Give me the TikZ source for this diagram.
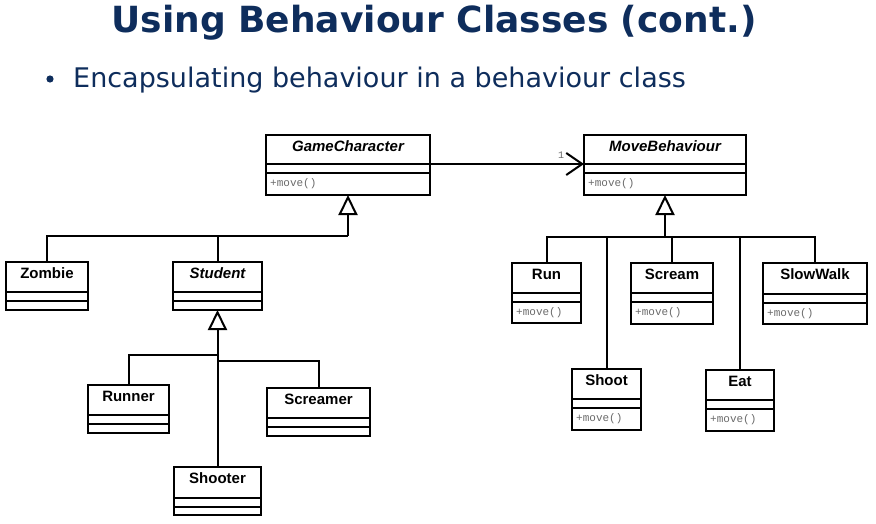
\documentclass[tikz,border=0pt]{standalone}
\usepackage{fontspec}
\setmainfont{DejaVu Sans}
\newfontfamily\umlsans{Liberation Sans}
\newfontfamily\umlmono{Liberation Mono}
\usetikzlibrary{arrows.meta}
\definecolor{navy}{HTML}{0E2D5C}
\definecolor{methodgray}{HTML}{6A6A6A}

\tikzset{
  classbox/.style={draw=black, line width=2pt, rectangle, inner sep=0pt, outer sep=0pt},
  divider/.style={line width=1.8pt},
  classname/.style={font=\umlsans\bfseries\fontsize{15}{17}\selectfont, anchor=base, inner sep=0pt},
  abstractname/.style={classname, font=\umlsans\bfseries\itshape\fontsize{15}{17}\selectfont},
  method/.style={font=\umlmono\fontsize{11}{12}\selectfont, text=methodgray, anchor=base west, inner sep=0pt},
  link/.style={line width=2pt},
  generalize/.style={link, -{Triangle[open, length=20pt, width=19pt, line width=2pt, fill=white]}},
  navigate/.style={link, -{Straight Barb[length=16pt, width=22pt, line width=2pt]}},
}

% #1 node name, #2 left, #3 top, #4 right, #5 bottom, #6 first divider,
% #7 name style, #8 class name, #9 operation text
\newcommand{\umlclass}[9]{%
  \node[classbox, anchor=north west, minimum width={(#4-#2)*1pt},
        minimum height={(#5-#3)*1pt}] (#1) at (#2,#3) {};
  \draw[divider] ([yshift={-(#6-#3)*1pt}]#1.north west) -- ([yshift={-(#6-#3)*1pt}]#1.north east)
                 ([yshift={-(#6-#3+9)*1pt}]#1.north west) -- ([yshift={-(#6-#3+9)*1pt}]#1.north east);
  \node[#7] (#1-name) at ({(#2+#4)/2},{#3+16.5}) {#8};
  \node[method] (#1-op) at ({#2+4},{#6+22}) {#9};
}

\begin{document}
\begin{tikzpicture}[x=1pt, y=-1pt]
\useasboundingbox (0,0) rectangle (876,524);
\fill[white] (0,0) rectangle (876,524);

% heading and bullet point
\node[font=\bfseries\fontsize{36}{42}\selectfont, text=navy, anchor=base, inner sep=0pt] (title) at (434,33) {Using Behaviour Classes (cont.)};
\fill[navy] (50,79) circle[radius=3.6] coordinate (dot);
\node[font=\fontsize{27}{32}\selectfont, text=navy, anchor=base west, inner sep=0pt] (point) at (73,88) {Encapsulating behaviour in a behaviour class};

% character hierarchy
\umlclass{gc}{266}{135}{430}{195}{164}{abstractname}{GameCharacter}{+move()}
\umlclass{zombie}{6}{262}{88}{310}{292}{classname}{Zombie}{}
\umlclass{student}{173}{262}{262}{310}{292}{abstractname}{Student}{}
\umlclass{runner}{88}{385}{169}{433}{415}{classname}{Runner}{}
\umlclass{screamer}{267}{388}{370}{436}{418}{classname}{Screamer}{}
\umlclass{shooter}{174}{467}{261}{515}{498}{classname}{Shooter}{}

% behaviour hierarchy
\umlclass{mb}{584}{135}{746}{195}{164}{abstractname}{MoveBehaviour}{+move()}
\umlclass{run}{512}{263}{581}{323}{293}{classname}{Run}{+move()}
\umlclass{scream}{631}{263}{713}{324}{293}{classname}{Scream}{+move()}
\umlclass{slowwalk}{763}{263}{867}{324}{294}{classname}{SlowWalk}{+move()}
\umlclass{shoot}{572}{369}{641}{430}{399}{classname}{Shoot}{+move()}
\umlclass{eat}{706}{370}{774}{431}{400}{classname}{Eat}{+move()}

% association
\draw[navigate] ([yshift=-29pt]gc.north east) -- ([yshift=-29pt]mb.north west)
  node[pos=1, font=\umlmono\fontsize{10}{11}\selectfont, text=methodgray, xshift=-23pt, yshift=9pt] (mult) {1};

% generalisation trees
\coordinate (gcj) at ([yshift=-41pt]gc.south);
\draw[link] (zombie.north) |- (gcj);
\draw[link] (student.north) |- (gcj);
\draw[generalize] (gcj) -- (gc.south);

\coordinate (stj1) at ([yshift=-45pt]student.south);
\coordinate (stj2) at ([yshift=-51pt]student.south);
\draw[link] (runner.north) |- (stj1);
\draw[link] (screamer.north) |- (stj2);
\draw[generalize] (shooter.north) -- (student.south);

\coordinate (mbj) at ([yshift=-42pt]mb.south);
\draw[link] (run.north) |- (mbj);
\draw[link] (shoot.north) |- (mbj);
\draw[link] (scream.north) |- (mbj);
\draw[link] (eat.north) |- (mbj);
\draw[link] (slowwalk.north) |- (mbj);
\draw[generalize] (mbj) -- (mb.south);
\end{tikzpicture}
\end{document}
